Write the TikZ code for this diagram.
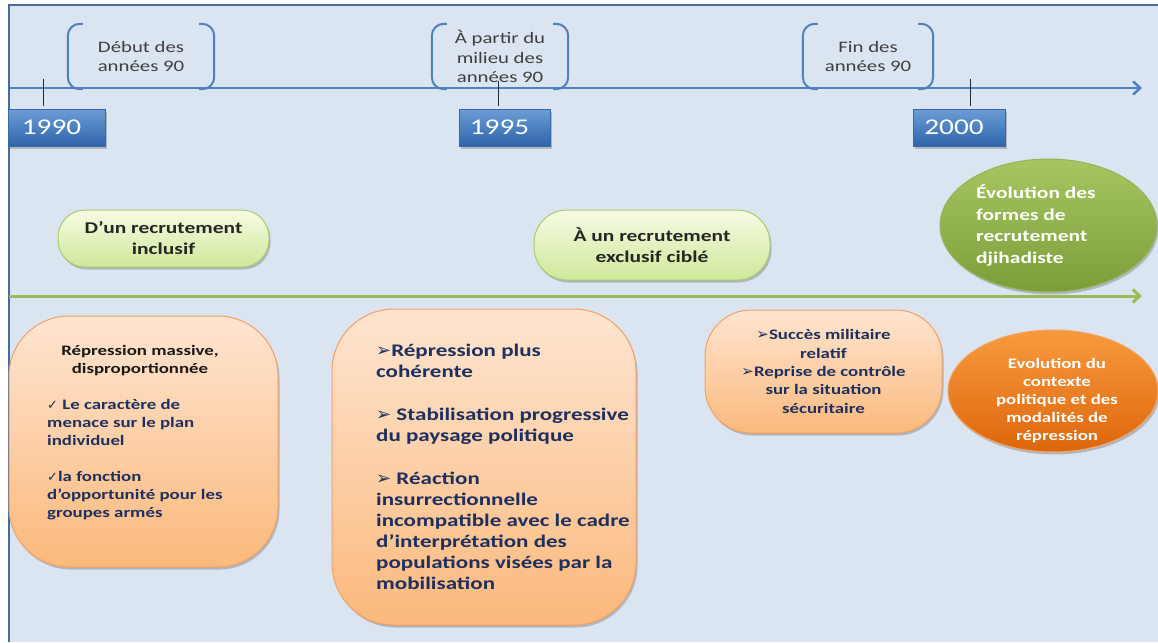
\documentclass[tikz,border=0pt]{standalone}
\usepackage{fontspec}
\setmainfont{Carlito}[FakeStretch=1.3]
\newfontfamily\symf{DejaVu Sans}
\usetikzlibrary{arrows.meta,shapes.geometric,shadows}
\newcommand\myfs[2]{\fontsize{#1}{#2}\selectfont}
\definecolor{bg}{HTML}{DBE5F1}
\definecolor{frame}{HTML}{4A6A9A}
\definecolor{tlblue}{HTML}{4F81BD}
\definecolor{tlgreen}{HTML}{9BBB59}
\definecolor{labelgray}{HTML}{3F3F3F}
\definecolor{navy}{HTML}{1F2F5E}
\definecolor{yeartop}{HTML}{6C9CD6}
\definecolor{yearbot}{HTML}{2F65AA}
\definecolor{yearedge}{HTML}{3A69A6}
\definecolor{gboxtop}{HTML}{F6FBE4}
\definecolor{gboxbot}{HTML}{CFE89A}
\definecolor{gboxedge}{HTML}{A9CB6A}
\definecolor{getop}{HTML}{A7C661}
\definecolor{gebot}{HTML}{7B9D3A}
\definecolor{geedge}{HTML}{93B555}
\definecolor{otop}{HTML}{FEE5D1}
\definecolor{obot}{HTML}{FBB97C}
\definecolor{oedge}{HTML}{F6A062}
\definecolor{oetop}{HTML}{F89A3E}
\definecolor{oebot}{HTML}{DD660C}
\definecolor{oeedge}{HTML}{F4A45E}
\tikzset{
  shad/.style={drop shadow={shadow xshift=1.5pt,shadow yshift=-2.5pt,opacity=0.3,fill=black!70}},
  yearbox/.style={draw=yearedge,line width=0.6pt,top color=yeartop,bottom color=yearbot,
    text=white,font={\myfs{22.5}{26}},inner sep=0,shad},
  bracketline/.style={draw=tlblue,line width=2pt,rounded corners=12},
  bracketlabel/.style={text=labelgray,font={\myfs{16}{19.5}},align=center,inner sep=0},
  ticker/.style={draw=black!85,line width=1pt},
  timeline/.style={draw=tlblue,line width=2.5pt,-{Straight Barb[length=7pt,width=13pt,line width=2.5pt]}},
  greenline/.style={draw=tlgreen,line width=3pt,-{Straight Barb[length=7pt,width=13pt,line width=3pt]}},
  greenbox/.style={draw=gboxedge,line width=1pt,top color=gboxtop,bottom color=gboxbot,
    font={\bfseries\myfs{16.5}{21}},text=black!85,align=center,inner sep=0,shad},
  orangebox/.style={draw=oedge,line width=1pt,top color=otop,bottom color=obot,inner sep=0,shad},
  navytext/.style={text=navy,inner sep=0},
  whitetext/.style={text=white,inner sep=0,font={\bfseries\myfs{14.5}{18}}},
}
\newcommand\chk{{\symf\myfs{13}{18}✓}}
\newcommand\arrs{{\symf\myfs{15}{18}➢}}
\newcommand\arrb{{\symf\myfs{18}{21}➢}}
\begin{document}
\begin{tikzpicture}[x=1pt,y=-1pt]
\useasboundingbox (0,0) rectangle (1158,642);
\fill[white] (0,0) rectangle (1158,642);
\fill[bg] (9,5) rectangle (1158,642);
\coordinate (fa) at (9,642);
\coordinate (fb) at (9,5);
\coordinate (fc) at (1158,5);
\draw[frame,line width=2pt] (fa) -- (fb) -- (fc);

% timelines
\coordinate (tl0) at (9,88);
\coordinate (tl1) at (1142,88);
\draw[timeline] (tl0) -- (tl1);
\coordinate (gl0) at (9,296);
\coordinate (gl1) at (1142,296);
\draw[greenline] (gl0) -- (gl1);

% period labels with brackets
\node[bracketlabel,minimum width=146,minimum height=65] (b1) at (141,56.5) {Début des\\années 90};
\node[bracketlabel,minimum width=136,minimum height=65] (b2) at (500,56.5) {À partir du\\milieu des\\années 90};
\node[bracketlabel,minimum width=130,minimum height=65] (b3) at (868,56.5) {Fin des\\années 90};
\foreach \b in {b1,b2,b3}{
  \draw[bracketline] ([xshift=15pt]\b.north west) -- (\b.north west) -- (\b.south west) -- ([xshift=15pt]\b.south west);
  \draw[bracketline] ([xshift=-15pt]\b.north east) -- (\b.north east) -- (\b.south east) -- ([xshift=-15pt]\b.south east);
}

% ticks
\coordinate (k1a) at (43,79);  \coordinate (k1b) at (43,106);
\coordinate (k2a) at (498,81); \coordinate (k2b) at (498,106);
\coordinate (k3a) at (970,79); \coordinate (k3b) at (970,106);
\draw[ticker] (k1a) -- (k1b);
\draw[ticker] (k2a) -- (k2b);
\draw[ticker] (k3a) -- (k3b);

% years
\node[yearbox,minimum width=97,minimum height=37] (y1) at (56.5,127.5) {\hspace*{-10pt}1990};
\node[yearbox,minimum width=91,minimum height=37] (y2) at (504.5,127.5) {\hspace*{-10pt}1995};
\node[yearbox,minimum width=92,minimum height=37] (y3) at (959,127.5) {\hspace*{-10pt}2000};

% green boxes
\node[greenbox,rounded corners=27,minimum width=211,minimum height=57] (g1) at (163.5,238.5) {D’un recrutement\\inclusif};
\node[greenbox,rounded corners=33,minimum width=236,minimum height=70] (g2) at (652,245) {À un recrutement\\exclusif ciblé};

% green ellipse
\node[ellipse,draw=geedge,line width=1pt,top color=getop,bottom color=gebot,minimum width=217,minimum height=133,inner sep=0,shad] (ge) at (1048.5,225.5) {};
\node[text=white,inner sep=0,font={\bfseries\myfs{16.5}{21.5}},align=left,anchor=west] (get) at (976,225.5) {Évolution des\\formes de\\recrutement\\djihadiste};

% orange box 1
\node[orangebox,rounded corners=60,minimum width=269,minimum height=251] (o1) at (143.5,441.5) {};
\node[inner sep=0,text=black!90,font={\bfseries\myfs{14.5}{18}},align=center,anchor=north] (o1h) at (140,345) {Répression massive,\\disproportionnée};
\node[navytext,font={\bfseries\myfs{14.5}{18.3}},align=left,anchor=north west] (o1i) at (47,399) {\chk{} Le caractère de\\menace sur le plan\\individuel\\[17pt]\chk{}la fonction\\d’opportunité pour les\\groupes armés};

% orange box 2
\node[orangebox,rounded corners=62,minimum width=304,minimum height=316] (o2) at (484,467) {};
\node[navytext,font={\bfseries\myfs{17.7}{21}},align=left,anchor=north west] (o2t) at (376,344) {\arrb{}Répression plus\\cohérente\\[22pt]\arrb{} Stabilisation progressive\\du paysage politique\\[22pt]\arrb{} Réaction\\insurrectionnelle\\incompatible avec le cadre\\d’interprétation des\\populations visées par la\\mobilisation};

% orange box 3
\node[orangebox,rounded corners=46,minimum width=237,minimum height=123,navytext,font={\bfseries\myfs{14.5}{18.3}},align=center] (o3) at (823.5,371.5) {\arrs{}Succès militaire\\relatif\\\arrs{}Reprise de contrôle\\sur la situation\\sécuritaire};

% orange ellipse
\node[ellipse,draw=oeedge,line width=1pt,top color=oetop,bottom color=oebot,minimum width=210,minimum height=122,inner sep=0,shad] (oe) at (1053,391) {};
\node[whitetext,align=center] (oet) at (1057,401) {Evolution du\\contexte\\politique et des\\modalités de\\répression};
\end{tikzpicture}
\end{document}
